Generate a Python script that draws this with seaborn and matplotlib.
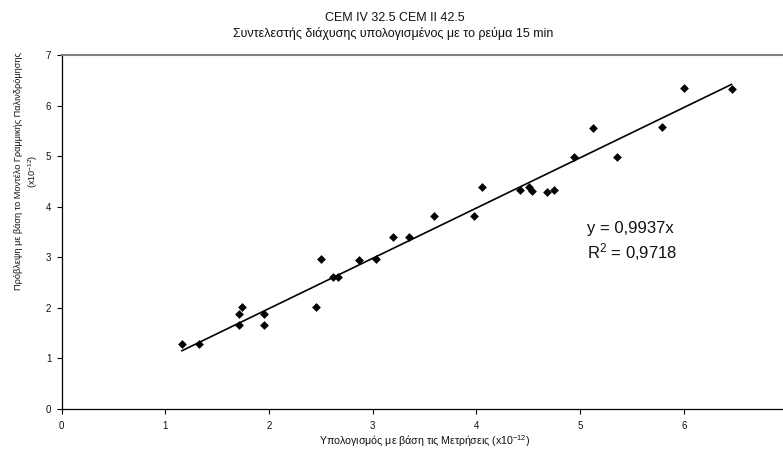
import matplotlib
matplotlib.use("Agg")
import matplotlib.pyplot as plt
import seaborn as sns
import numpy as np
import pandas as pd

# ---- data ----
x_measured = [1.157, 1.327, 1.710, 1.710, 1.739, 1.951, 1.951, 2.452, 2.498, 2.619,
              2.662, 2.864, 3.031, 3.192, 3.349, 3.593, 3.976, 4.050, 4.417, 4.506,
              4.532, 4.677, 4.747, 4.940, 5.120, 5.355, 5.786, 6.001, 6.461]
y_predicted = [1.285, 1.285, 1.660, 1.885, 2.020, 1.660, 1.885, 2.020, 2.970, 2.610,
               2.610, 2.950, 2.970, 3.400, 3.400, 3.810, 3.810, 4.380, 4.340, 4.380,
               4.320, 4.300, 4.330, 4.980, 5.560, 4.980, 5.580, 6.340, 6.320]
trend_slope = 0.9937
x_ticks = [0, 1, 2, 3, 4, 5, 6]
y_ticks = [0, 1, 2, 3, 4, 5, 6, 7]

title_line1 = "CEM IV 32.5 CEM II 42.5"
title_line2 = "Συντελεστής διάχυσης υπολογισμένος με το ρεύμα 15 min"
x_label = "Υπολογισμός με βάση τις Μετρήσεις (x10$^{-12}$)"
y_label1 = "Πρόβλεψη με βάση το Μοντέλο Γραμμικής Παλινδρόμησης"
y_label2 = "(x10$^{-12}$)"
eq_text = "y = 0,9937x"
r2_text = "R$^2$ = 0,9718"

sns.set_theme(style="white")
plt.rcParams["font.family"] = ["Liberation Sans", "DejaVu Sans"]
plt.rcParams["mathtext.default"] = "regular"

W, H = 783, 450
fig = plt.figure(figsize=(W / 100, H / 100), dpi=100)
fig.patch.set_facecolor("white")
ax = fig.add_axes([61.7 / W, (H - 409) / H, (787.6 - 61.7) / W, (409 - 55) / H])
ax.set_facecolor("white")

df = pd.DataFrame({"x": x_measured, "y": y_predicted})
sns.scatterplot(data=df, x="x", y="y", marker="D", s=20, color="black",
                edgecolor="black", linewidth=0, ax=ax, zorder=3)

xs = np.array([min(x_measured), max(x_measured)])
trend = pd.DataFrame({"x": xs, "y": trend_slope * xs})
sns.lineplot(data=trend, x="x", y="y", color="black", linewidth=1.2, ax=ax, zorder=2)

ax.set_xlim(0, 7)
ax.set_ylim(0, 7)
ax.set_xticks(x_ticks)
ax.set_yticks(y_ticks)
ax.set_xticklabels([str(t) for t in x_ticks])
ax.set_yticklabels([str(t) for t in y_ticks])
ax.tick_params(axis="both", which="major", direction="out", length=3.5, width=0.8,
               color="black", labelsize=7, labelcolor="#111111")
ax.tick_params(axis="x", pad=5, bottom=True)
ax.tick_params(axis="y", pad=4, left=True)

ax.set_xlabel("")
ax.set_ylabel("")

for side in ["left", "bottom"]:
    ax.spines[side].set_visible(True)
    ax.spines[side].set_color("black")
    ax.spines[side].set_linewidth(0.9)
ax.spines["top"].set_visible(True)
ax.spines["top"].set_color("#808080")
ax.spines["top"].set_linewidth(1.5)
ax.spines["right"].set_visible(False)

ax.text(0.723, 0.511, eq_text, transform=ax.transAxes, ha="left", va="center",
        fontsize=12, color="#111111")
ax.text(0.723, 0.444, r2_text, transform=ax.transAxes, ha="left", va="center",
        fontsize=12, color="#111111")

fig.text(395 / W, (H - 18) / H, title_line1, ha="center", va="center", fontsize=9, color="#111111")
fig.text(393 / W, (H - 33) / H, title_line2, ha="center", va="center", fontsize=9, color="#111111")

fig.text(425 / W, (H - 441.5) / H, x_label, ha="center", va="center", fontsize=7.7, color="#111111")
fig.text(19 / W, (H - 171) / H, y_label1, ha="center", va="center", rotation=90,
         fontsize=6.6, color="#111111")
fig.text(33 / W, (H - 171) / H, y_label2, ha="center", va="center", rotation=90,
         fontsize=6.6, color="#111111")

fig.savefig("out.png", dpi=100, facecolor="white")
